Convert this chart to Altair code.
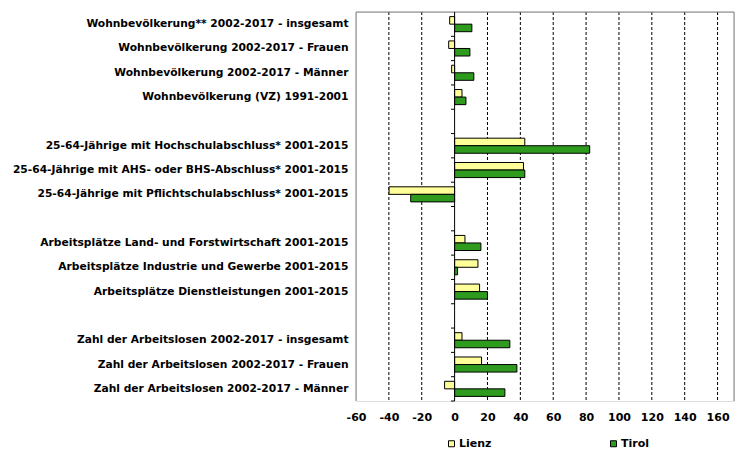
import altair as alt
import pandas as pd

categories = [
    "Wohnbevölkerung** 2002-2017 - insgesamt",
    "Wohnbevölkerung 2002-2017 - Frauen",
    "Wohnbevölkerung 2002-2017 - Männer",
    "Wohnbevölkerung (VZ) 1991-2001",
    " ",
    "25-64-Jährige mit Hochschulabschluss* 2001-2015",
    "25-64-Jährige mit AHS- oder BHS-Abschluss* 2001-2015",
    "25-64-Jährige mit Pflichtschulabschluss* 2001-2015",
    "  ",
    "Arbeitsplätze Land- und Forstwirtschaft 2001-2015",
    "Arbeitsplätze Industrie und Gewerbe 2001-2015",
    "Arbeitsplätze Dienstleistungen 2001-2015",
    "   ",
    "Zahl der Arbeitslosen 2002-2017 - insgesamt",
    "Zahl der Arbeitslosen 2002-2017 - Frauen",
    "Zahl der Arbeitslosen 2002-2017 - Männer",
]
lienz = [-3.0, -3.6, -1.8, 4.5, None, 42.7, 41.9, -39.9, None,
         6.3, 14.2, 15.2, None, 4.5, 16.4, -6.1]
tirol = [10.5, 9.3, 11.7, 6.9, None, 82.2, 42.7, -26.7, None,
         16.0, 1.8, 20.0, None, 33.6, 37.9, 30.6]
series = ["Lienz", "Tirol"]
colors = ["#FFFF99", "#2E9B1F"]
x_ticks = [-60, -40, -20, 0, 20, 40, 60, 80, 100, 120, 140, 160]
grid_vals = [-40, -20, 20, 40, 60, 80, 100, 120, 140, 160]
border_vals = [-60, 170]

rows = []
for c, l, t in zip(categories, lienz, tirol):
    if l is not None:
        rows.append({"cat": c, "series": "Lienz", "value": l})
    if t is not None:
        rows.append({"cat": c, "series": "Tirol", "value": t})
df = pd.DataFrame(rows)

W, H = 378, 389
FONT = "DejaVu Sans"
FS = 11
FSY = 10.7

xscale = alt.Scale(domain=[-60, 170], nice=False, zero=False)
xaxis = alt.Axis(title=None, values=x_ticks, grid=False, ticks=False,
                 domain=False, labelPadding=10, labelFont=FONT,
                 labelFontWeight="bold", labelFontSize=FS,
                 labelColor="black", labelFlush=False,
                 labelExpr="'' + datum.value")

grid = alt.Chart(pd.DataFrame({"g": grid_vals})).mark_rule(
    color="black", strokeWidth=1, strokeDash=[3, 2]
).encode(x=alt.X("g:Q", scale=xscale, axis=xaxis))

borders = alt.Chart(pd.DataFrame({"b": border_vals})).mark_rule(
    color="#808080", strokeWidth=1
).encode(x=alt.X("b:Q", scale=xscale, axis=xaxis))

top = alt.Chart(pd.DataFrame({"t": [0]})).mark_rule(
    color="#808080", strokeWidth=1
).encode(x=alt.value(0), x2=alt.value(W), y=alt.value(0))

bars = alt.Chart(df).mark_bar(stroke="black", strokeWidth=1).encode(
    y=alt.Y("cat:N", sort=categories,
            scale=alt.Scale(domain=categories, paddingInner=0.38, paddingOuter=0.19),
            axis=alt.Axis(title=None, ticks=False, domain=False, labelPadding=8,
                          labelFont=FONT, labelFontWeight="bold", labelFontSize=FSY,
                          labelColor="black", labelLimit=400)),
    yOffset=alt.YOffset("series:N", sort=series,
                        scale=alt.Scale(domain=series, paddingInner=0, paddingOuter=0)),
    x=alt.X("value:Q", scale=xscale, axis=xaxis),
    fill=alt.Fill("series:N", scale=alt.Scale(domain=series, range=colors),
                  legend=alt.Legend(title=None, orient="none", direction="horizontal",
                                    legendX=90, legendY=426, columnPadding=116,
                                    symbolType="square", symbolSize=36,
                                    symbolStrokeColor="black", symbolStrokeWidth=1,
                                    labelFont=FONT, labelFontWeight="bold",
                                    labelFontSize=FS, labelColor="black",
                                    labelOffset=2)),
)

zero = alt.Chart(pd.DataFrame({"z": [0]})).mark_rule(
    color="black", strokeWidth=1
).encode(x=alt.X("z:Q", scale=xscale, axis=xaxis))

ticks = alt.Chart(pd.DataFrame({"cat": categories})).mark_rule(
    color="black", strokeWidth=1
).encode(
    y=alt.Y("cat:N", sort=categories, bandPosition=1,
            scale=alt.Scale(domain=categories, paddingInner=0, paddingOuter=0),
            axis=None),
    x=alt.X("x1:Q", scale=xscale, axis=xaxis),
    x2="x2:Q",
).transform_calculate(x1="-2.2", x2="0")

chart = alt.layer(grid, borders, top, bars, zero, ticks).resolve_scale(
    y="independent"
).properties(
    width=W, height=H,
    autosize=alt.AutoSizeParams(type="none"),
    padding={"left": 348, "top": 4, "right": 10, "bottom": 50},
).configure_view(stroke=None).configure(background="white")

chart.save("out.html", embed_options={"renderer": "svg", "actions": False})
